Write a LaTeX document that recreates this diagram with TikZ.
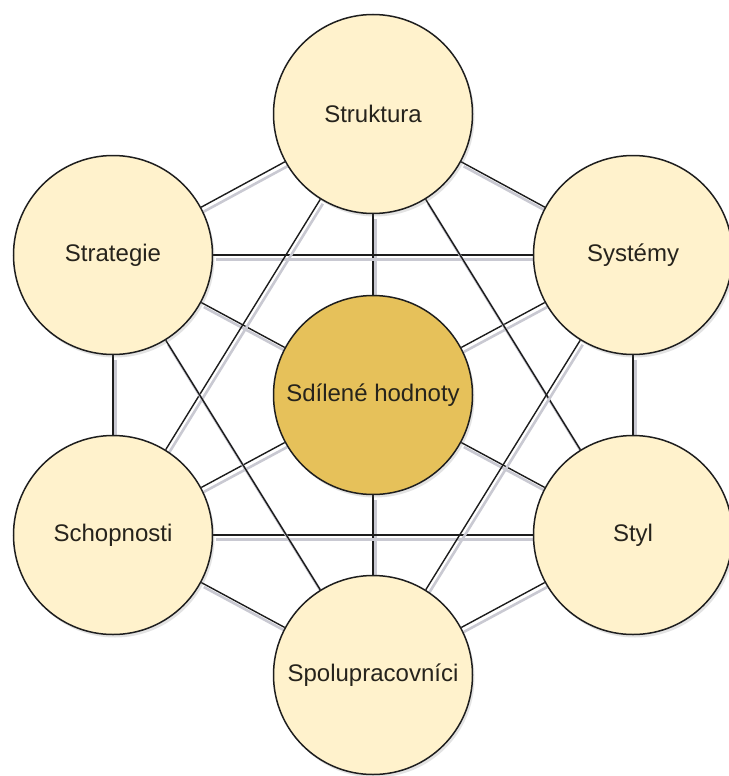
\documentclass[tikz,border=0pt]{standalone}
\usepackage{fontspec}
\setmainfont{Liberation Sans}
\usetikzlibrary{backgrounds,shadows}

\definecolor{ringfill}{HTML}{FFF2CC}
\definecolor{corefill}{HTML}{E6C15A}
\definecolor{ringline}{HTML}{1E1E1E}
\definecolor{linkcol}{HTML}{1C1C1C}
\definecolor{linkshadow}{HTML}{C9C9D2}
\definecolor{labelcol}{HTML}{26231C}

\tikzset{
  sbubble/.style={circle, draw=ringline, line width=1.5pt, fill=ringfill,
    minimum size=199pt, inner sep=0pt, text=labelcol,
    font=\fontsize{24}{27}\selectfont,
    drop shadow={shadow xshift=2pt, shadow yshift=-3pt, opacity=0.18, fill=black!60}},
  corebubble/.style={sbubble, fill=corefill},
  link/.style={draw=linkcol, line width=1.4pt,
    preaction={draw=linkshadow, line width=2.6pt,
      transform canvas={shift={(2.5pt,-4.5pt)}}}}
}

\begin{document}
\begin{tikzpicture}[x=1pt,y=-1pt]
  \useasboundingbox (0,0) rectangle (728,776);

  % the seven elements
  \node[sbubble]    (struk) at (373,114) {Struktura};
  \node[sbubble]    (strat) at (113,255) {Strategie};
  \node[sbubble]    (syst)  at (633,255) {Systémy};
  \node[corebubble] (hodn)  at (373,395) {Sdílené hodnoty};
  \node[sbubble]    (schop) at (113,535) {Schopnosti};
  \node[sbubble]    (styl)  at (633,535) {Styl};
  \node[sbubble]    (spol)  at (373,675) {Spolupracovníci};

  % every element is linked with every other one
  \begin{scope}[on background layer]
    % outer ring
    \draw[link] (struk) -- (strat);
    \draw[link] (struk) -- (syst);
    \draw[link] (strat) -- (schop);
    \draw[link] (syst)  -- (styl);
    \draw[link] (schop) -- (spol);
    \draw[link] (styl)  -- (spol);
    % spokes to the shared values
    \draw[link] (struk) -- (hodn);
    \draw[link] (strat) -- (hodn);
    \draw[link] (syst)  -- (hodn);
    \draw[link] (schop) -- (hodn);
    \draw[link] (styl)  -- (hodn);
    \draw[link] (spol)  -- (hodn);
    % chords
    \draw[link] (strat) -- (syst);
    \draw[link] (schop) -- (styl);
    \draw[link] (struk) -- (schop);
    \draw[link] (struk) -- (styl);
    \draw[link] (strat) -- (spol);
    \draw[link] (syst)  -- (spol);
  \end{scope}
\end{tikzpicture}
\end{document}
